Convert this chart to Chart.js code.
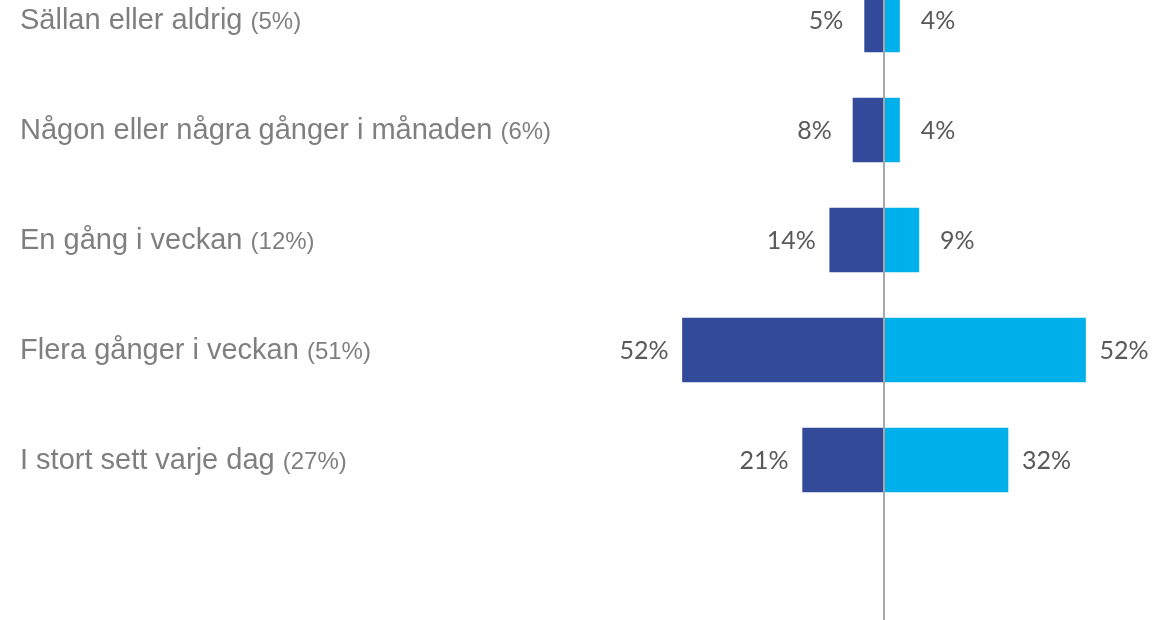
<!DOCTYPE html>
<html>
<head>
<meta charset="utf-8">
<script src="https://cdn.jsdelivr.net/npm/chart.js@4"></script>
<style>
  html, body { margin: 0; padding: 0; background: #fff; overflow: hidden; }
  #wrap { position: absolute; left: 0; top: -35px; width: 1163px; height: 660px; }
</style>
</head>
<body>
<div id="wrap"><canvas id="chart-freq"></canvas></div>
<script>
// categories (last one is an empty row at the bottom)
const categories = ['Sällan eller aldrig', 'Någon eller några gånger i månaden', 'En gång i veckan', 'Flera gånger i veckan', 'I stort sett varje dag', ''];
const totals = [5, 6, 12, 51, 27];
const leftValues = [5, 8, 14, 52, 21];
const rightValues = [4, 4, 9, 52, 32];

const labelPlugin = {
    id: 'labels',
    afterDatasetsDraw(chart) {
        const ctx = chart.ctx;
        const x = chart.scales.x;
        const y = chart.scales.y;

        // zero line
        ctx.save();
        ctx.strokeStyle = '#a6a6a6';
        ctx.lineWidth = 2;
        ctx.beginPath();
        ctx.moveTo(x.getPixelForValue(0), chart.chartArea.top);
        ctx.lineTo(x.getPixelForValue(0), chart.chartArea.bottom);
        ctx.stroke();

        // category labels
        ctx.textBaseline = 'middle';
        ctx.textAlign = 'left';
        categories.forEach((c, i) => {
            if (!c) return;
            const py = y.getPixelForValue(i);
            ctx.font = '29px "Liberation Sans", Arial, sans-serif';
            ctx.fillStyle = '#7f7f7f';
            ctx.fillText(c, 20, py + 1);
            const w = ctx.measureText(c + ' ').width;
            ctx.font = '24px "Liberation Sans", Arial, sans-serif';
            ctx.fillText('(' + totals[i] + '%)', 20 + w, py + 2);
        });

        // value labels
        ctx.font = '25px Lato, "Open Sans", sans-serif';
        ctx.fillStyle = '#595959';
        ctx.textAlign = 'center';
        leftValues.forEach((v, i) => {
            const py = y.getPixelForValue(i);
            ctx.fillText(v + '%', x.getPixelForValue(-v) - 38.5, py + 1);
        });
        rightValues.forEach((v, i) => {
            const py = y.getPixelForValue(i);
            ctx.fillText(v + '%', x.getPixelForValue(v) + 38.5, py + 1);
        });
        ctx.restore();
    }
};

const chart = new Chart(document.getElementById('chart-freq'), {
    type: 'bar',
    data: {
        labels: categories,
        datasets: [{
            label: 'Vänster',
            data: leftValues.map(v => -v),
            backgroundColor: '#334a9a',
            barThickness: 64
        }, {
            label: 'Höger',
            data: rightValues,
            backgroundColor: '#00b0ea',
            barThickness: 64
        }]
    },
    options: {
        indexAxis: 'y',
        responsive: true,
        maintainAspectRatio: false,
        animation: false,
        layout: { padding: { left: 574, right: 0, top: 0, bottom: 0 } },
        plugins: {
            legend: { display: false },
            tooltip: { enabled: false }
        },
        scales: {
            x: { type: 'linear', min: -80, max: 72, stacked: true, display: false },
            y: { type: 'category', stacked: true, display: false }
        }
    },
    plugins: [labelPlugin]
});
</script>
</body>
</html>
